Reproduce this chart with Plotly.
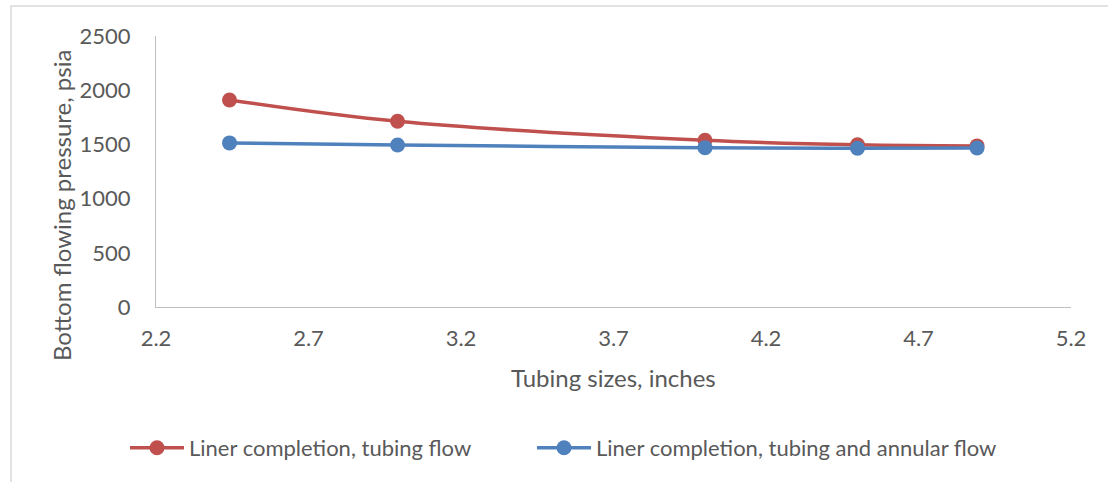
import plotly.graph_objects as go

tubing_sizes = [2.441, 2.992, 4.0, 4.5, 4.892]
tubing_flow = [1910, 1713, 1538, 1496, 1486]
tubing_annular_flow = [1514, 1495, 1470, 1464, 1467]
series_names = ["Liner completion, tubing flow",
                "Liner completion, tubing and annular flow"]
x_title = "Tubing sizes, inches"
y_title = "Bottom flowing pressure, psia"

FONT = "Lato, sans-serif"
TXT = "#595959"
W, H = 1108, 482
L, R, T, B = 156, 1071, 36, 307

def px_x(p):
    return (p - L) / (R - L)

def px_y(p):
    return (B - p) / (B - T)

fig = go.Figure()
fig.add_trace(go.Scatter(
    x=tubing_sizes, y=tubing_flow, name=series_names[0], legend="legend",
    mode="lines+markers", line=dict(color="#C0504D", width=3.5, shape="spline"),
    marker=dict(size=15, color="#C0504D")))
fig.add_trace(go.Scatter(
    x=tubing_sizes, y=tubing_annular_flow, name=series_names[1], legend="legend2",
    mode="lines+markers", line=dict(color="#4F81BD", width=3.5, shape="spline"),
    marker=dict(size=15, color="#4F81BD")))

leg_common = dict(orientation="h", yanchor="middle", xanchor="left",
                  font=dict(family=FONT, size=22, color=TXT),
                  itemwidth=54, bgcolor="rgba(0,0,0,0)")

fig.update_layout(
    width=W, height=H,
    margin=dict(l=L, r=W - R, t=T, b=H - B, pad=0),
    paper_bgcolor="white", plot_bgcolor="white",
    font=dict(family=FONT, size=22, color=TXT),
    showlegend=True,
    legend=dict(x=px_x(125), y=px_y(448), **leg_common),
    legend2=dict(x=px_x(532), y=px_y(448), **leg_common),
    xaxis=dict(range=[2.2, 5.2], tick0=2.2, dtick=0.5, tickformat=".1f",
               showgrid=False, zeroline=False, showline=True,
               linecolor="#BFBFBF", linewidth=1.3, ticks="",
               ticklabelstandoff=11,
               tickfont=dict(family=FONT, size=22, color=TXT)),
    yaxis=dict(range=[0, 2500], dtick=500,
               showgrid=False, zeroline=False, showline=True,
               linecolor="#BFBFBF", linewidth=1.3, ticks="",
               ticklabelstandoff=20,
               tickfont=dict(family=FONT, size=22, color=TXT)),
    shapes=[dict(type="rect", xref="paper", yref="paper",
                 x0=px_x(11), x1=px_x(1120), y0=px_y(6), y1=px_y(500),
                 line=dict(color="#D9D9D9", width=1.5), layer="below")],
    annotations=[
        dict(text=x_title, xref="paper", yref="paper", x=px_x(613), y=px_y(377),
             xanchor="center", yanchor="middle", showarrow=False,
             font=dict(family=FONT, size=24, color=TXT)),
        dict(text=y_title, xref="paper", yref="paper", x=px_x(62), y=px_y(206),
             xanchor="center", yanchor="middle", showarrow=False, textangle=-90,
             font=dict(family=FONT, size=24, color=TXT)),
    ],
)

fig.write_html("out.html")
